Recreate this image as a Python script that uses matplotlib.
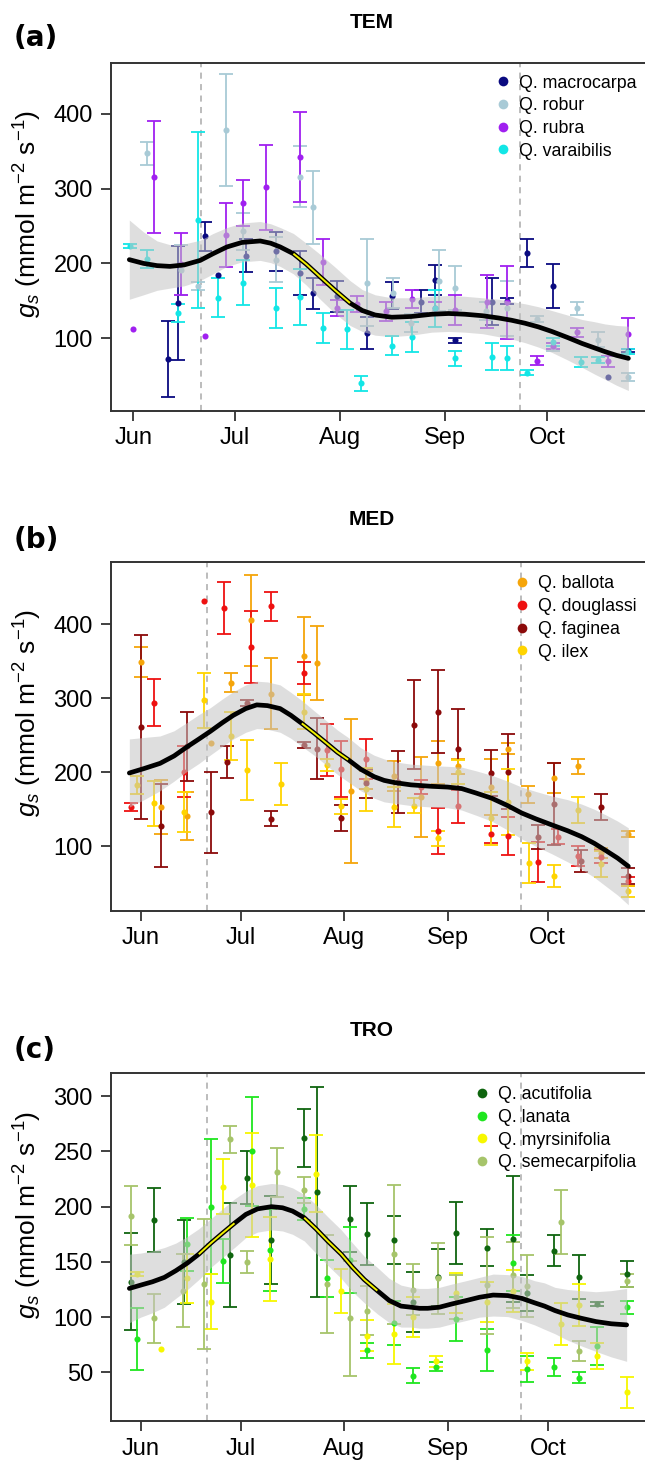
import numpy as np
import matplotlib
matplotlib.use("Agg")
import matplotlib.pyplot as plt
from matplotlib.lines import Line2D

plt.rcParams['font.family'] = ['Liberation Sans', 'DejaVu Sans']
plt.rcParams['mathtext.fontset'] = 'custom'
plt.rcParams['mathtext.rm'] = 'Liberation Sans'
plt.rcParams['mathtext.it'] = 'Liberation Sans:italic'

# ---------------- DATA ----------------
month_days = [152, 182, 213, 244, 274]
month_labels = ['Jun', 'Jul', 'Aug', 'Sep', 'Oct']
solstice_equinox = [172, 266]

# ---- TEM ----
tem_species = ['Q. macrocarpa', 'Q. robur', 'Q. rubra', 'Q. varaibilis']
tem_macrocarpa_day = [162.1, 165.1, 173.2, 177, 185.2, 194, 201, 205.1, 212.2, 221, 228.2, 236.7, 241, 246.9, 257.7, 262.1, 268, 275.9, 292, 297.8]
tem_macrocarpa_gs = [72, 147, 236, 184, 210, 216, 187, 160, 156, 107, 157, 149, 178, 97, 149, 150, 214, 170, 48, 83]
tem_macrocarpa_se = [51, 76, 20, 0, 22, 26, 29, 21, 21, 21, 18, 16, 20, 3, 31, 4, 19, 29, 0, 2]
tem_robur_day = [156.1, 166, 171, 179.3, 184.2, 194, 201, 205.1, 220.9, 228.7, 234, 242.2, 246.9, 256, 262.1, 271, 275.9, 282.8, 289, 297.8]
tem_robur_gs = [347, 191, 170, 378, 243, 205, 316, 275, 174, 160, 120, 177, 167, 136, 140, 126, 88, 140, 98, 48]
tem_robur_se = [16, 33, 5, 75, 25, 30, 41, 49, 58, 20, 12, 41, 29, 12, 37, 4, 5, 9, 10, 5]
tem_rubra_day = [152, 158.1, 166, 173, 179.3, 184.2, 191, 201, 208, 212.2, 218, 226.5, 234.1, 241, 246.9, 256.2, 262.1, 271, 275.9, 282.8, 292, 297.8]
tem_rubra_gs = [112, 316, 199, 103, 238, 281, 302, 342, 202, 140, 146, 136, 153, 140, 138, 149, 148, 70, 90, 108, 69, 106]
tem_rubra_se = [0, 75, 41, 0, 43, 31, 57, 60, 31, 11, 11, 13, 12, 8, 20, 36, 49, 6, 4, 6, 7, 21]
tem_varaibilis_day = [151, 156.1, 165.1, 171, 177, 184.2, 194, 201, 208, 215, 219, 228.2, 234.1, 241, 246.9, 257.7, 262.1, 268, 275.9, 284, 289, 297.8]
tem_varaibilis_gs = [223, 206, 134, 258, 154, 174, 140, 155, 114, 112, 40, 90, 101, 140, 73, 75, 74, 54, 95, 68, 71, 82]
tem_varaibilis_se = [3, 12, 12, 118, 26, 30, 27, 37, 20, 26, 10, 13, 20, 25, 10, 18, 16, 3, 5, 7, 4, 3]
tem_curve_day = [150.8, 155, 159, 162.8, 167, 171.7, 175.5, 179.6, 184, 189.4, 192.5, 195.3, 199.2, 203, 207.1, 211.5, 215.9, 219.5, 223.3, 228.2, 234, 240, 245, 249.8, 255, 259.7, 263.5, 267.5, 271.5, 275.4, 280, 284.3, 288, 291.1, 294.5, 298]
tem_curve_gs = [205, 200, 197, 196, 198, 204, 213, 222, 228, 230, 227, 222, 213, 199, 182, 164, 147, 137, 131, 128, 129, 132, 133, 132, 130, 127, 124, 120, 115, 109, 101, 93, 87, 82, 77, 73]
tem_curve_ci = [53, 42, 33, 29, 28, 27, 27, 26, 26, 26, 26, 26, 27, 28, 30, 31, 30, 28, 27, 26, 25, 24, 24, 24, 24, 25, 25, 26, 27, 28, 30, 32, 35, 37, 40, 43]
tem_signif = [(199.2, 215.9)]

# ---- MED ----
med_species = ['Q. ballota', 'Q. douglassi', 'Q. faginea', 'Q. ilex']
med_ballota_day = [152, 158, 166, 173, 179, 185, 191, 201, 205, 215, 219.7, 228, 236, 241, 247, 257, 262, 268, 276, 283, 290, 298]
med_ballota_gs = [349, 153, 141, 239, 321, 405, 306, 357, 348, 175, 190, 195, 167, 213, 208, 180, 232, 170, 192, 208, 91, 116]
med_ballota_se = [20, 36, 32, 0, 13, 61, 48, 53, 50, 97, 12, 20, 54, 29, 10, 38, 7, 12, 20, 10, 7, 4]
med_douglassi_day = [149, 156, 165, 171, 177, 185, 191, 201, 208, 212, 219.7, 236, 241, 247, 257, 262, 271, 277, 283, 290, 298]
med_douglassi_gs = [153, 294, 201, 431, 422, 369, 424, 334, 230, 204, 218, 180, 121, 154, 116, 114, 79, 113, 87, 86, 53]
med_douglassi_se = [6, 32, 35, 0, 35, 49, 20, 15, 35, 38, 27, 10, 31, 22, 12, 26, 27, 10, 13, 9, 6]
med_faginea_day = [152, 158, 166, 173, 178, 184, 191, 201, 205, 212, 219.7, 229.2, 234, 241, 247, 257, 262, 271, 276, 284, 290, 298]
med_faginea_gs = [261, 128, 235, 146, 214, 293, 137, 237, 232, 138, 185, 187, 264, 282, 232, 199, 201, 113, 157, 80, 153, 60]
med_faginea_se = [124, 56, 47, 55, 22, 4, 10, 4, 41, 18, 20, 42, 60, 56, 53, 31, 50, 16, 55, 15, 18, 11]
med_ilex_day = [150.8, 156, 165, 171, 179, 184, 194, 201, 208, 212, 219.7, 228, 234, 241, 247, 257, 262, 268.5, 276, 283, 290, 298]
med_ilex_gs = [183, 158, 146, 297, 249, 203, 184, 282, 210, 154, 177, 153, 155, 111, 200, 138, 160, 77, 60, 149, 76, 39]
med_ilex_se = [12, 30, 27, 37, 33, 41, 28, 24, 8, 10, 29, 27, 10, 10, 16, 36, 45, 27, 15, 18, 17, 7]
med_curve_day = [148.6, 153, 157.8, 162, 165.8, 169.5, 172.8, 176.5, 179.8, 183.5, 186.8, 190, 193.8, 197, 200.3, 204, 207.8, 211, 214.2, 218, 222, 225, 228.2, 233, 239.2, 244, 248.2, 252.5, 257.2, 262, 266.2, 270.5, 275.2, 280, 284.2, 288, 291.2, 295, 298.2]
med_curve_gs = [199, 205, 212, 222, 234, 245, 255, 267, 277, 286, 291, 290, 286, 277, 266, 253, 239, 227, 217, 204, 194, 189, 186, 183, 181, 180, 178, 172, 165, 155, 145, 137, 129, 121, 113, 104, 95, 84, 73]
med_curve_ci = [46, 42, 37, 34, 33, 33, 32, 32, 32, 32, 32, 32, 32, 31, 31, 30, 30, 30, 30, 29, 29, 29, 28, 28, 28, 28, 29, 30, 31, 33, 35, 37, 39, 42, 44, 46, 48, 50, 52]
med_signif = [(200.3, 214.2)]

# ---- TRO ----
tro_species = ['Q. acutifolia', 'Q. lanata', 'Q. myrsinifolia', 'Q. semecarpifolia']
tro_acutifolia_day = [149.1, 156.1, 165, 178.9, 183.8, 190.9, 200.8, 204.7, 214.8, 219.7, 227.8, 233.6, 241, 246.5, 255.8, 263.5, 267.7, 275.8, 283.2, 288.7, 297.6]
tro_acutifolia_gs = [132, 188, 150, 156, 226, 170, 262, 213, 189, 175, 170, 114, 136, 176, 163, 171, 122, 160, 136, 112, 139]
tro_acutifolia_se = [44, 29, 38, 47, 24, 40, 26, 95, 30, 28, 22, 27, 26, 28, 17, 57, 16, 14, 20, 1.5, 12]
tro_lanata_day = [150.9, 166, 173, 176.8, 185.2, 190.8, 200.8, 207.8, 214.8, 219.7, 227.8, 233.6, 240.6, 246.5, 255.8, 263.5, 267.7, 275.8, 283.2, 288.7, 297.6]
tro_lanata_gs = [80, 166, 200, 151, 250, 161, 198, 135, 152, 70, 95, 47, 55, 98, 70, 149, 53, 55, 45, 74, 109]
tro_lanata_se = [28, 24, 61, 20, 49, 37, 10, 17, 30, 7, 20, 7, 4, 20, 19, 25, 12, 8, 5, 17, 6]
tro_myrsinifolia_day = [150.9, 158, 166, 173, 176.8, 185.2, 190.8, 204.6, 211.9, 219.7, 227.8, 233.6, 240.6, 246.5, 255.8, 263.5, 267.7, 277.9, 283.2, 288.7, 297.6]
tro_myrsinifolia_gs = [139, 71, 135, 114, 218, 220, 153, 230, 124, 83, 85, 100, 60, 122, 114, 124, 60, 94, 111, 65, 32]
tro_myrsinifolia_se = [2, 0, 22, 25, 25, 47, 38, 35, 20, 14, 27, 18, 5, 18, 18, 19, 8, 19, 19, 12, 14]
tro_semecarpifolia_day = [149.1, 156.1, 164.7, 171.1, 178.9, 183.8, 192.9, 200.8, 207.8, 214.8, 219.7, 227.8, 233.6, 241, 246.5, 255.8, 263.5, 267.7, 277.9, 283.2, 297.6]
tro_semecarpifolia_gs = [192, 99, 124, 130, 261, 150, 231, 215, 130, 99, 106, 157, 125, 135, 118, 129, 138, 128, 186, 69, 133]
tro_semecarpifolia_se = [27, 22, 33, 59, 12, 10, 22, 12, 44, 52, 22, 63, 23, 32, 20, 44, 30, 28, 29, 9, 6]
tro_curve_day = [148.6, 152, 155.5, 159.1, 162.5, 166, 169.4, 173, 176.5, 180.1, 183.5, 187, 191.2, 194.5, 197.5, 201, 204.5, 208, 212.1, 215.5, 219, 222.9, 226.5, 230, 233, 235.5, 238, 241.5, 245.3, 249.5, 253.5, 257.6, 262, 266.2, 270, 273, 276.1, 280, 284, 288.4, 293, 297.6]
tro_curve_gs = [126, 129, 132, 136, 142, 149, 157, 167, 176, 185, 193, 198, 200, 199, 196, 190, 180, 169, 157, 145, 134, 124, 115, 110, 109, 108, 108, 109, 112, 115, 118, 120, 119.5, 117, 113, 110, 106, 102, 99, 96, 94, 93]
tro_curve_ci = [31, 29, 28, 27, 25, 24, 23, 22, 22, 22, 21, 21, 21, 21, 21, 21, 22, 22, 22, 22, 21, 21, 20, 19, 18, 18, 18, 18, 18, 18, 18, 19, 19, 20, 20, 21, 21, 23, 25, 27, 30, 33]
tro_signif = [(169.4, 180.1), (201, 222.9)]

# ---------------- STYLE ----------------
W, H = 645, 1462
fig = plt.figure(figsize=(W / 100, H / 100), dpi=100)

def fx(px):
    return px / W

def fy(py):
    return 1 - py / H

panels = [
    dict(tag='(a)', title='TEM', top=63, bottom=410.7, xlim=(145.4, 302.9), ylim=(3, 468),
         yticks=[100, 200, 300, 400], species=tem_species,
         data=[(tem_macrocarpa_day, tem_macrocarpa_gs, tem_macrocarpa_se),
               (tem_robur_day, tem_robur_gs, tem_robur_se),
               (tem_rubra_day, tem_rubra_gs, tem_rubra_se),
               (tem_varaibilis_day, tem_varaibilis_gs, tem_varaibilis_se)],
         colors=['#0a0a80', '#a8cad6', '#a020f0', '#12e6e6'],
         curve=(tem_curve_day, tem_curve_gs, tem_curve_ci), signif=tem_signif,
         title_y=22, tag_y=38, leg_x=503, leg_y=85, ylab_y=214),
    dict(tag='(b)', title='MED', top=562, bottom=910.7, xlim=(143.1, 303.2), ylim=(13, 484),
         yticks=[100, 200, 300, 400], species=med_species,
         data=[(med_ballota_day, med_ballota_gs, med_ballota_se),
               (med_douglassi_day, med_douglassi_gs, med_douglassi_se),
               (med_faginea_day, med_faginea_gs, med_faginea_se),
               (med_ilex_day, med_ilex_gs, med_ilex_se)],
         colors=['#f5a50a', '#ee1111', '#8b0a0a', '#ffd400'],
         curve=(med_curve_day, med_curve_gs, med_curve_ci), signif=med_signif,
         title_y=520, tag_y=540, leg_x=521.7, leg_y=586, ylab_y=713),
    dict(tag='(c)', title='TRO', top=1073, bottom=1421, xlim=(143.1, 303.1), ylim=(6, 321),
         yticks=[50, 100, 150, 200, 250, 300], species=tro_species,
         data=[(tro_acutifolia_day, tro_acutifolia_gs, tro_acutifolia_se),
               (tro_lanata_day, tro_lanata_gs, tro_lanata_se),
               (tro_myrsinifolia_day, tro_myrsinifolia_gs, tro_myrsinifolia_se),
               (tro_semecarpifolia_day, tro_semecarpifolia_gs, tro_semecarpifolia_se)],
         colors=['#0f650f', '#1fe61f', '#f7f700', '#a6c46a'],
         curve=(tro_curve_day, tro_curve_gs, tro_curve_ci), signif=tro_signif,
         title_y=1030, tag_y=1050, leg_x=481.7, leg_y=1096.7, ylab_y=1215),
]

left_px = 111
for p in panels:
    ax = fig.add_axes([fx(left_px), fy(p['bottom']), 1 - fx(left_px), (p['bottom'] - p['top']) / H])
    ax.set_xlim(*p['xlim'])
    ax.set_ylim(*p['ylim'])
    for sp in ['left', 'top', 'bottom']:
        ax.spines[sp].set_linewidth(1.4)
        ax.spines[sp].set_color('#333333')
    ax.spines['right'].set_visible(False)
    ax.set_xticks(month_days)
    ax.set_xticklabels(month_labels)
    ax.set_yticks(p['yticks'])
    ax.tick_params(axis='both', length=7, width=1.3, color='#333333', labelsize=17)
    ax.tick_params(axis='y', pad=6)
    ax.tick_params(axis='x', pad=5)

    for d in solstice_equinox:
        ax.axvline(d, color='#aaaaaa', lw=1.1, ls=(0, (4, 3.5)), zorder=1)

    for (days, gs, se), col in zip(p['data'], p['colors']):
        days = np.asarray(days, float)
        gs = np.asarray(gs, float)
        se = np.asarray(se, float)
        has = se > 0
        ax.errorbar(days[has], gs[has], yerr=se[has], fmt='none', ecolor=col,
                    elinewidth=1.3, capsize=5, capthick=1.3, zorder=2)
        ax.plot(days, gs, 'o', color=col, ms=4.4, mec='none', zorder=3)

    cd, cg, cc = (np.asarray(a, float) for a in p['curve'])
    ax.fill_between(cd, cg - cc, cg + cc, color='#c4c4c4', alpha=0.55, lw=0, zorder=4)
    ax.plot(cd, cg, color='black', lw=3.4, solid_capstyle='round', zorder=5)
    for s0, s1 in p['signif']:
        m = (cd >= s0 - 1e-6) & (cd <= s1 + 1e-6)
        ax.plot(cd[m], cg[m], color='#f2f200', lw=1.4, solid_capstyle='butt', zorder=6)

    handles = [Line2D([], [], marker='o', ls='none', color=c, mec='none', ms=7) for c in p['colors']]
    fs = 12.8
    em = fs * 100 / 72
    hl = 0.8
    ax.legend(handles, p['species'], loc='upper left',
              bbox_to_anchor=(fx(p['leg_x'] - hl * em / 2), fy(p['leg_y'] - 10.5)),
              bbox_transform=fig.transFigure, frameon=False, borderpad=0, borderaxespad=0,
              handlelength=hl, handletextpad=0.5, labelspacing=0.32, fontsize=fs)

    fig.text(fx(372), fy(p['title_y']), p['title'], ha='center', va='center',
             fontsize=15, fontweight='bold')
    fig.text(fx(14), fy(p['tag_y']), p['tag'], ha='left', va='center',
             fontsize=20, fontweight='bold', family='DejaVu Sans')
    fig.text(fx(28), fy(p['ylab_y']), r'$g_s$ (mmol m$^{-2}$ s$^{-1}$)', rotation=90,
             ha='center', va='center', fontsize=19)

fig.savefig('out.png', dpi=100)
